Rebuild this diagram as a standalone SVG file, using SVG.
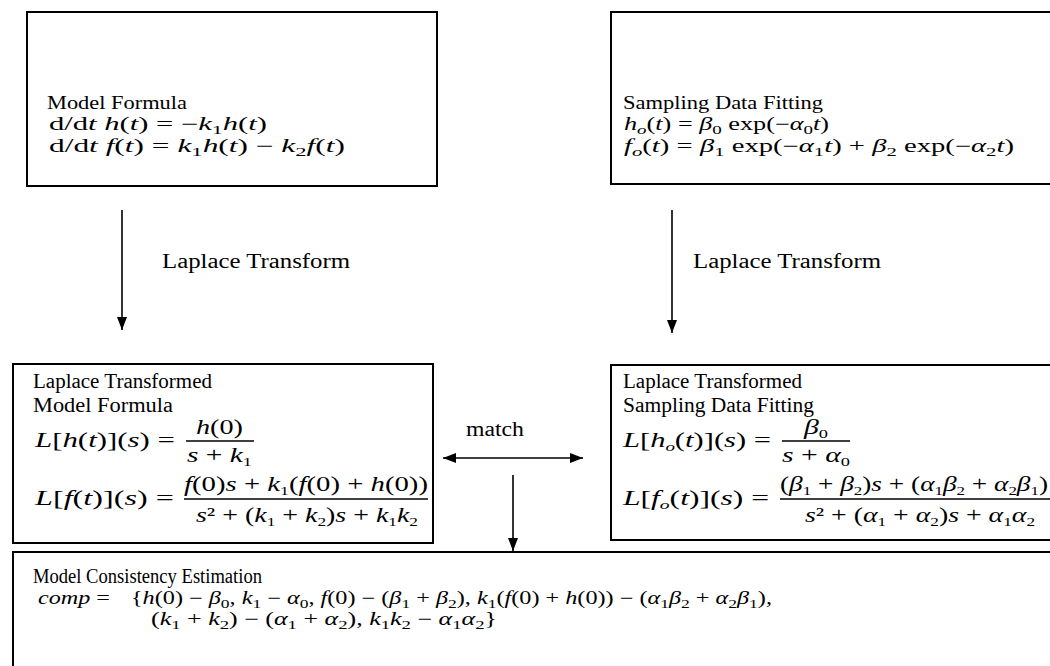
<svg xmlns="http://www.w3.org/2000/svg" width="1050" height="666" viewBox="0 0 1050 666">
<style>
.box{fill:none;stroke:#000;stroke-width:2}
.t{font-family:"Liberation Serif",serif;font-size:18px;fill:#000}
.m{font-size:20px}
.q{font-size:21px}
.i{font-style:italic}
.sb{font-size:13px;baseline-shift:-4px}
.con{stroke:#000;stroke-width:1.6;fill:none}
.bar{stroke:#000;stroke-width:1.3}
</style>
<defs>
<marker id="ah" viewBox="0 0 13 10" refX="13" refY="5" markerWidth="13" markerHeight="10" markerUnits="userSpaceOnUse" orient="auto-start-reverse"><path d="M0,0 L13,5 L0,10 z" fill="#000"/></marker>
</defs>
<rect width="1050" height="666" fill="#fff"/>

<g id="n1">
<rect class="box" x="27" y="12" width="410" height="174"/>
<text class="t" x="47" y="109" textLength="140" lengthAdjust="spacingAndGlyphs">Model Formula</text>
<text class="t" x="49" y="130" textLength="218" lengthAdjust="spacingAndGlyphs">d/d<tspan class="i">t h</tspan>(<tspan class="i">t</tspan>) = −<tspan class="i">k</tspan><tspan class="sb">1</tspan><tspan class="i">h</tspan>(<tspan class="i">t</tspan>)</text>
<text class="t" x="49" y="152" textLength="296" lengthAdjust="spacingAndGlyphs">d/d<tspan class="i">t f</tspan>(<tspan class="i">t</tspan>) = <tspan class="i">k</tspan><tspan class="sb">1</tspan><tspan class="i">h</tspan>(<tspan class="i">t</tspan>) − <tspan class="i">k</tspan><tspan class="sb">2</tspan><tspan class="i">f</tspan>(<tspan class="i">t</tspan>)</text>
</g>

<g id="n2">
<rect class="box" x="611" y="12" width="452" height="172"/>
<text class="t" x="623" y="109" textLength="200" lengthAdjust="spacingAndGlyphs">Sampling Data Fitting</text>
<text class="t" x="624" y="130" textLength="205" lengthAdjust="spacingAndGlyphs"><tspan class="i">h</tspan><tspan class="sb i">o</tspan>(<tspan class="i">t</tspan>) = <tspan class="i">β</tspan><tspan class="sb">0</tspan> exp(−<tspan class="i">α</tspan><tspan class="sb">0</tspan><tspan class="i">t</tspan>)</text>
<text class="t" x="624" y="152" textLength="390" lengthAdjust="spacingAndGlyphs"><tspan class="i">f</tspan><tspan class="sb i">o</tspan>(<tspan class="i">t</tspan>) = <tspan class="i">β</tspan><tspan class="sb">1</tspan> exp(−<tspan class="i">α</tspan><tspan class="sb">1</tspan><tspan class="i">t</tspan>) + <tspan class="i">β</tspan><tspan class="sb">2</tspan> exp(−<tspan class="i">α</tspan><tspan class="sb">2</tspan><tspan class="i">t</tspan>)</text>
</g>

<g id="n3">
<rect class="box" x="13" y="364" width="420" height="179"/>
<text class="t m" x="33" y="388" textLength="179" lengthAdjust="spacingAndGlyphs">Laplace Transformed</text>
<text class="t m" x="33" y="412" textLength="140" lengthAdjust="spacingAndGlyphs">Model Formula</text>
<text class="t q" x="35" y="447" textLength="140" lengthAdjust="spacingAndGlyphs"><tspan class="i">L</tspan>[<tspan class="i">h</tspan>(<tspan class="i">t</tspan>)](<tspan class="i">s</tspan>) =</text>
<line class="bar" x1="186" y1="441" x2="254" y2="441"/>
<text class="t q" x="196" y="434" textLength="47" lengthAdjust="spacingAndGlyphs"><tspan class="i">h</tspan>(0)</text>
<text class="t q" x="187" y="462" textLength="65" lengthAdjust="spacingAndGlyphs"><tspan class="i">s</tspan> + <tspan class="i">k</tspan><tspan class="sb">1</tspan></text>
<text class="t q" x="35" y="505" textLength="139" lengthAdjust="spacingAndGlyphs"><tspan class="i">L</tspan>[<tspan class="i">f</tspan>(<tspan class="i">t</tspan>)](<tspan class="i">s</tspan>) =</text>
<line class="bar" x1="184" y1="499" x2="428" y2="499"/>
<text class="t q" x="184" y="491" textLength="244" lengthAdjust="spacingAndGlyphs"><tspan class="i">f</tspan>(0)<tspan class="i">s</tspan> + <tspan class="i">k</tspan><tspan class="sb">1</tspan>(<tspan class="i">f</tspan>(0) + <tspan class="i">h</tspan>(0))</text>
<text class="t q" x="196" y="522" textLength="222" lengthAdjust="spacingAndGlyphs"><tspan class="i">s</tspan>² + (<tspan class="i">k</tspan><tspan class="sb">1</tspan> + <tspan class="i">k</tspan><tspan class="sb">2</tspan>)<tspan class="i">s</tspan> + <tspan class="i">k</tspan><tspan class="sb">1</tspan><tspan class="i">k</tspan><tspan class="sb">2</tspan></text>
</g>

<g id="n4">
<rect class="box" x="611" y="365" width="452" height="175"/>
<text class="t m" x="623" y="388" textLength="179" lengthAdjust="spacingAndGlyphs">Laplace Transformed</text>
<text class="t m" x="623" y="412" textLength="191" lengthAdjust="spacingAndGlyphs">Sampling Data Fitting</text>
<text class="t q" x="623" y="447" textLength="148" lengthAdjust="spacingAndGlyphs"><tspan class="i">L</tspan>[<tspan class="i">h</tspan><tspan class="sb i">o</tspan>(<tspan class="i">t</tspan>)](<tspan class="i">s</tspan>) =</text>
<line class="bar" x1="782" y1="441" x2="850" y2="441"/>
<text class="t q" x="804" y="434" textLength="24" lengthAdjust="spacingAndGlyphs"><tspan class="i">β</tspan><tspan class="sb">0</tspan></text>
<text class="t q" x="782" y="462" textLength="68" lengthAdjust="spacingAndGlyphs"><tspan class="i">s</tspan> + <tspan class="i">α</tspan><tspan class="sb">0</tspan></text>
<text class="t q" x="623" y="505" textLength="146" lengthAdjust="spacingAndGlyphs"><tspan class="i">L</tspan>[<tspan class="i">f</tspan><tspan class="sb i">o</tspan>(<tspan class="i">t</tspan>)](<tspan class="i">s</tspan>) =</text>
<line class="bar" x1="780" y1="499" x2="1062" y2="499"/>
<text class="t q" x="780" y="491" textLength="268" lengthAdjust="spacingAndGlyphs">(<tspan class="i">β</tspan><tspan class="sb">1</tspan> + <tspan class="i">β</tspan><tspan class="sb">2</tspan>)<tspan class="i">s</tspan> + (<tspan class="i">α</tspan><tspan class="sb">1</tspan><tspan class="i">β</tspan><tspan class="sb">2</tspan> + <tspan class="i">α</tspan><tspan class="sb">2</tspan><tspan class="i">β</tspan><tspan class="sb">1</tspan>)</text>
<text class="t q" x="805" y="522" textLength="230" lengthAdjust="spacingAndGlyphs"><tspan class="i">s</tspan>² + (<tspan class="i">α</tspan><tspan class="sb">1</tspan> + <tspan class="i">α</tspan><tspan class="sb">2</tspan>)<tspan class="i">s</tspan> + <tspan class="i">α</tspan><tspan class="sb">1</tspan><tspan class="i">α</tspan><tspan class="sb">2</tspan></text>
</g>

<g id="n5">
<rect class="box" x="13" y="552" width="1052" height="130"/>
<text class="t m" x="33" y="583" textLength="229" lengthAdjust="spacingAndGlyphs">Model Consistency Estimation</text>
<text class="t" x="38" y="604" textLength="72" lengthAdjust="spacingAndGlyphs"><tspan class="i">comp</tspan> =</text>
<text class="t" x="131" y="604" textLength="641" lengthAdjust="spacingAndGlyphs">{<tspan class="i">h</tspan>(0) − <tspan class="i">β</tspan><tspan class="sb">0</tspan>, <tspan class="i">k</tspan><tspan class="sb">1</tspan> − <tspan class="i">α</tspan><tspan class="sb">0</tspan>, <tspan class="i">f</tspan>(0) − (<tspan class="i">β</tspan><tspan class="sb">1</tspan> + <tspan class="i">β</tspan><tspan class="sb">2</tspan>), <tspan class="i">k</tspan><tspan class="sb">1</tspan>(<tspan class="i">f</tspan>(0) + <tspan class="i">h</tspan>(0)) − (<tspan class="i">α</tspan><tspan class="sb">1</tspan><tspan class="i">β</tspan><tspan class="sb">2</tspan> + <tspan class="i">α</tspan><tspan class="sb">2</tspan><tspan class="i">β</tspan><tspan class="sb">1</tspan>),</text>
<text class="t" x="151" y="625" textLength="346" lengthAdjust="spacingAndGlyphs">(<tspan class="i">k</tspan><tspan class="sb">1</tspan> + <tspan class="i">k</tspan><tspan class="sb">2</tspan>) − (<tspan class="i">α</tspan><tspan class="sb">1</tspan> + <tspan class="i">α</tspan><tspan class="sb">2</tspan>), <tspan class="i">k</tspan><tspan class="sb">1</tspan><tspan class="i">k</tspan><tspan class="sb">2</tspan> − <tspan class="i">α</tspan><tspan class="sb">1</tspan><tspan class="i">α</tspan><tspan class="sb">2</tspan>}</text>
</g>

<g id="connectors">
<line class="con" x1="122" y1="210" x2="122" y2="330" marker-end="url(#ah)"/>
<line class="con" x1="672" y1="210" x2="672" y2="333" marker-end="url(#ah)"/>
<line class="con" x1="443" y1="458" x2="583" y2="458" marker-start="url(#ah)" marker-end="url(#ah)"/>
<line class="con" x1="513" y1="475" x2="513" y2="551" marker-end="url(#ah)"/>
<text class="t m" x="162" y="268" textLength="188" lengthAdjust="spacingAndGlyphs">Laplace Transform</text>
<text class="t m" x="693" y="268" textLength="188" lengthAdjust="spacingAndGlyphs">Laplace Transform</text>
<text class="t m" x="466" y="436" textLength="58" lengthAdjust="spacingAndGlyphs">match</text>
</g>
</svg>
